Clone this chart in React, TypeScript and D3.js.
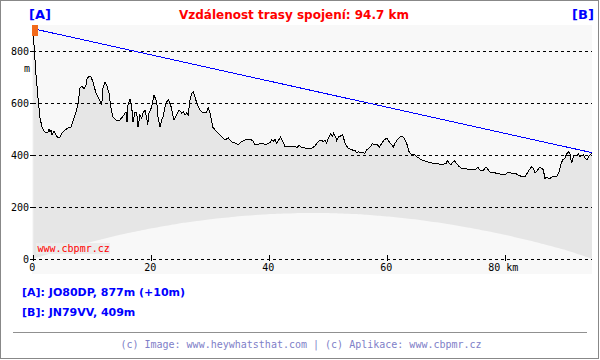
import React from "react";
import * as d3 from "d3";

// ---- data ----
const TITLE = "Vzdálenost trasy spojení: 94.7 km";
const TOTAL_KM = 94.7;
const A_ELEV = 877;
const A_ANTENNA = 10;
const B_ELEV = 409;
const A_INFO = "[A]: JO80DP, 877m (+10m)";
const B_INFO = "[B]: JN79VV, 409m";
const FOOTER = "(c) Image: www.heywhatsthat.com | (c) Aplikace: www.cbpmr.cz";
const WATERMARK = "www.cbpmr.cz";

const Y_TICKS = [0, 200, 400, 600, 800];
const X_TICKS = [0, 20, 40, 60, 80];
const X_TICK_LABELS = ["0", "20", "40", "60", "80 km"];

const PROFILE_KM = [
  0, 0.12, 0.46, 0.8, 1.14, 1.47, 1.8, 2.15, 2.49, 2.66, 2.83, 3.0, 3.17, 3.5, 3.68, 3.85, 4.19, 4.53, 4.86, 5.37,
  5.88, 6.39, 6.9, 7.24, 7.58, 7.92, 8.25, 8.59, 8.93, 9.1, 9.44, 9.78, 10.12, 10.29, 10.63, 10.97, 11.31, 11.59, 11.81, 12.15,
  12.49, 12.83, 13.17, 13.5, 14.02, 14.69, 15.37, 15.71, 15.88, 16.05, 16.39, 16.68, 16.9, 17.24, 17.53, 17.75, 18.08, 18.37, 18.59, 18.93,
  19.22, 19.39, 19.61, 20.07, 20.46, 20.92, 21.14, 21.47, 21.76, 21.98, 22.49, 22.88, 23.29, 23.63, 23.85, 24.31, 24.69, 25.15, 25.42, 25.71,
  26.0, 26.27, 26.56, 26.85, 27.12, 27.41, 27.69, 28.25, 28.81, 29.39, 29.66, 29.95, 30.41, 31.08, 31.93, 32.49, 33.05, 33.63, 34.19, 34.75,
  35.32, 35.88, 36.73, 37.29, 37.58, 38.42, 38.98, 39.27, 40.12, 40.41, 40.68, 40.97, 41.25, 41.53, 41.93, 42.37, 42.66, 43.51, 44.36, 44.75,
  45.08, 45.49, 46.34, 47.19, 47.75, 48.31, 48.76, 49.15, 49.44, 49.73, 50.0, 50.41, 50.68, 50.92, 51.25, 51.42, 51.69, 52.15, 52.44, 52.83,
  53.39, 53.97, 54.53, 54.81, 55.08, 55.54, 56.22, 56.51, 57.08, 57.46, 57.92, 58.37, 58.64, 59.05, 59.49, 59.9, 60.29, 60.63, 61.02, 61.31,
  61.76, 62.15, 62.54, 62.88, 63.29, 63.68, 64.02, 64.69, 64.98, 65.54, 66.1, 66.68, 67.24, 67.8, 68.37, 68.93, 69.95, 70.17, 70.51, 70.75,
  71.08, 71.47, 71.76, 72.2, 72.61, 73.17, 73.56, 74.02, 74.58, 75.03, 75.32, 75.59, 75.83, 76.27, 76.56, 76.85, 77.29, 77.69, 78.25, 78.64,
  79.1, 79.66, 80.12, 80.51, 81.08, 81.64, 82.2, 82.78, 83.34, 83.73, 84.07, 84.47, 84.75, 85.03, 85.32, 85.76, 86.17, 86.44, 86.73, 87.02,
  87.29, 87.58, 88.03, 88.42, 88.81, 89.15, 89.39, 89.73, 90.12, 90.41, 90.68, 90.97, 91.25, 91.53, 91.81, 92.1, 92.37, 92.66, 92.95, 93.22,
  93.51, 93.8, 94.07, 94.36, 94.7,
];

const PROFILE_M = [
  877, 825, 709, 620, 543, 508, 493, 485, 489, 501, 489, 497, 477, 493, 485, 477, 466, 470, 485, 497,
  504, 508, 543, 566, 597, 659, 666, 655, 670, 693, 705, 701, 682, 666, 639, 624, 609, 593, 659, 682,
  666, 639, 582, 547, 535, 535, 555, 566, 528, 593, 616, 585, 528, 566, 562, 508, 555, 543, 562, 574,
  543, 516, 562, 585, 632, 605, 547, 508, 535, 547, 601, 613, 593, 555, 535, 555, 574, 562, 566, 555,
  562, 555, 613, 639, 643, 624, 601, 574, 562, 566, 582, 562, 508, 489, 470, 458, 466, 450, 446, 439,
  452, 458, 461, 454, 439, 443, 445, 439, 448, 458, 452, 461, 445, 456, 469, 448, 432, 432, 432, 429,
  438, 429, 426, 426, 435, 452, 458, 452, 456, 445, 465, 481, 471, 484, 469, 456, 469, 474, 480, 445,
  426, 420, 417, 409, 413, 409, 407, 420, 430, 443, 439, 439, 430, 445, 458, 465, 452, 443, 430, 445,
  461, 469, 471, 465, 445, 413, 404, 400, 394, 385, 378, 375, 371, 368, 368, 364, 366, 378, 368, 362,
  371, 378, 366, 355, 349, 349, 345, 343, 345, 345, 353, 345, 340, 340, 349, 353, 336, 332, 332, 327,
  327, 323, 327, 334, 330, 330, 323, 317, 317, 330, 343, 355, 349, 330, 336, 351, 349, 343, 310, 314,
  310, 310, 317, 317, 319, 336, 362, 381, 388, 404, 413, 404, 368, 394, 400, 397, 404, 394, 397, 400,
  388, 381, 391, 400, 409,
];

// earth bulge (lower edge of the terrain fill)
const BULGE_KM = [0, 5, 10, 15, 20, 25, 30, 35, 40, 45, 50, 55, 60, 65, 70, 75, 80, 85, 90, 94.7];
const BULGE_M = [0, 35, 66, 94, 117, 137, 152, 164, 172, 176, 176, 172, 163, 151, 135, 115, 92, 65, 35, 0];

export default function App() {
  const W = 600;
  const H = 360;
  const x = d3.scaleLinear().domain([0, TOTAL_KM]).range([33.3, 592]);
  const y = d3.scaleLinear().domain([0, 800]).range([258.7, 51.3]);
  const bulge = d3.scaleLinear<number>().domain(BULGE_KM).range(BULGE_M);

  const pts = PROFILE_KM.map((k, i) => ({ k, m: PROFILE_M[i] }));
  const areaGen = d3
    .area<{ k: number; m: number }>()
    .x((d) => x(d.k))
    .y0((d) => y(bulge(d.k)))
    .y1((d) => y(d.m));
  const lineGen = d3
    .line<{ k: number; m: number }>()
    .x((d) => x(d.k))
    .y((d) => y(d.m));

  const mono = "'DejaVu Sans Mono', monospace";
  const sans = "'DejaVu Sans', Verdana, sans-serif";

  return (
    <svg
      width={W}
      height={H}
      style={{ position: "absolute", left: 0, top: 0, background: "#ffffff" }}
    >
      <rect x={0} y={0} width={W} height={H} fill="#ffffff" />
      {/* plot background */}
      <rect x={32} y={25} width={560} height={249} fill="#f8f8f8" />
      {/* terrain */}
      <path d={areaGen(pts) || ""} fill="#e6e6e6" stroke="none" />
      {/* grid */}
      {Y_TICKS.map((t) => (
        <g key={"g" + t}>
          <line
            x1={33}
            x2={592}
            y1={Math.round(y(t)) + 0.5}
            y2={Math.round(y(t)) + 0.5}
            stroke="#000"
            strokeWidth={1}
            strokeDasharray="3,3"
          />
          <line x1={30} x2={33} y1={Math.round(y(t)) + 0.5} y2={Math.round(y(t)) + 0.5} stroke="#000" />
          <text
            x={29}
            y={y(t) + 4}
            textAnchor="end"
            fontFamily={mono}
            fontSize={10}
            fill="#000"
          >
            {t}
          </text>
        </g>
      ))}
      <text x={27} y={72} textAnchor="middle" fontFamily={mono} fontSize={10} fill="#000">
        m
      </text>
      {X_TICKS.map((t, i) => (
        <g key={"x" + t}>
          <line
            x1={Math.round(x(t)) + 0.5}
            x2={Math.round(x(t)) + 0.5}
            y1={255}
            y2={261}
            stroke="#000"
          />
          <text
            x={x(t) - (i === X_TICKS.length - 1 ? 2 : 1)}
            y={271}
            textAnchor="middle"
            fontFamily={mono}
            fontSize={10}
            fill="#000"
          >
            {X_TICK_LABELS[i]}
          </text>
        </g>
      ))}
      {/* profile */}
      <path d={lineGen(pts) || ""} fill="none" stroke="#000" strokeWidth={1} shapeRendering="crispEdges" />
      {/* line of sight */}
      <line
        x1={x(0)}
        y1={y(A_ELEV + A_ANTENNA)}
        x2={x(TOTAL_KM)}
        y2={y(B_ELEV)}
        stroke="#0000ff"
        strokeWidth={1}
        shapeRendering="crispEdges"
      />
      {/* antenna marker */}
      <rect x={x(0) - 1.3} y={25} width={6} height={11} fill="#f26a1b" />
      {/* watermark */}
      <rect x={36} y={243} width={74} height={11} fill="#ececec" />
      <text x={37.5} y={252} fontFamily={mono} fontSize={10} fill="#ff0000">
        {WATERMARK}
      </text>
      {/* title */}
      <text x={40} y={19} textAnchor="middle" fontFamily={sans} fontWeight="bold" fontSize={13} fill="#0000ff">
        [A]
      </text>
      <text x={583} y={19} textAnchor="middle" fontFamily={sans} fontWeight="bold" fontSize={13} fill="#0000ff">
        [B]
      </text>
      <text x={294} y={19} textAnchor="middle" fontFamily={sans} fontWeight="bold" fontSize={12} fill="#ff0000">
        {TITLE}
      </text>
      {/* info */}
      <text x={22} y={296} fontFamily={sans} fontWeight="bold" fontSize={11} fill="#0000ff">
        {A_INFO}
      </text>
      <text x={22} y={316} fontFamily={sans} fontWeight="bold" fontSize={11} fill="#0000ff">
        {B_INFO}
      </text>
      <line x1={13} x2={587} y1={332.5} y2={332.5} stroke="#909090" strokeWidth={1} />
      <text x={301} y={348} textAnchor="middle" fontFamily={mono} fontSize={10} fill="#8080c8">
        {FOOTER}
      </text>
      {/* frame */}
      <rect x={0.5} y={0.5} width={598} height={358} fill="none" stroke="#888888" strokeWidth={1} />
    </svg>
  );
}
